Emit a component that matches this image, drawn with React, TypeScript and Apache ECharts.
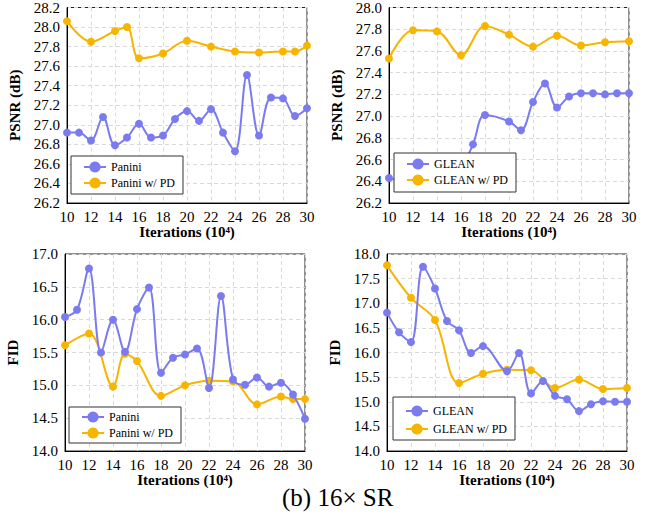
import React, { useEffect, useRef } from "react";
import * as echarts from "echarts";

// ---------- data ----------
const iterAll = [10, 11, 12, 13, 14, 15, 16, 17, 18, 19, 20, 21, 22, 23, 24, 25, 26, 27, 28, 29, 30];
const paniniPsnr = [26.92, 26.92, 26.84, 27.08, 26.79, 26.87, 27.01, 26.87, 26.89, 27.06, 27.14, 27.04, 27.16, 26.92, 26.73, 27.51, 26.89, 27.28, 27.27, 27.09, 27.17];
const paniniPdIter = [10, 12, 14, 15, 16, 18, 20, 22, 24, 26, 28, 29, 30];
const paniniPdPsnr = [28.06, 27.85, 27.96, 28.0, 27.68, 27.73, 27.86, 27.8, 27.75, 27.74, 27.75, 27.75, 27.81];

const gleanIter = [10, 11, 12, 13, 14, 15, 16, 17, 18, 20, 21, 22, 23, 24, 25, 26, 27, 28, 29, 30];
const gleanPsnr = [26.43, 26.4, 26.37, 26.4, 26.42, 26.46, 26.53, 26.74, 27.01, 26.95, 26.87, 27.13, 27.3, 27.08, 27.18, 27.21, 27.21, 27.2, 27.21, 27.21];
const gleanPdIter = [10, 12, 14, 16, 18, 20, 22, 24, 26, 28, 30];
const gleanPdPsnr = [27.53, 27.79, 27.78, 27.56, 27.83, 27.75, 27.64, 27.74, 27.65, 27.68, 27.69];

const paniniFid = [16.04, 16.15, 16.78, 15.5, 16.0, 15.51, 16.16, 16.49, 15.19, 15.42, 15.47, 15.56, 14.96, 16.36, 15.09, 15.01, 15.12, 14.98, 15.04, 14.86, 14.49];
const paniniPdFid = [15.61, 15.79, 14.98, 15.48, 15.37, 14.84, 15.0, 15.07, 15.06, 14.71, 14.83, 14.79, 14.79];

const gleanFid = [16.81, 16.41, 16.21, 17.74, 17.3, 16.64, 16.45, 15.99, 16.13, 15.62, 15.99, 15.17, 15.42, 15.12, 15.05, 14.81, 14.95, 15.01, 15.0, 15.0];
const gleanPdFid = [17.77, 17.11, 16.66, 15.38, 15.57, 15.65, 15.64, 15.28, 15.45, 15.26, 15.28];

const seriesNames = ["Panini", "Panini w/ PD", "GLEAN", "GLEAN w/ PD"];
const xTitle = "Iterations (10\u2074)";
const yTitles = ["PSNR (dB)", "PSNR (dB)", "FID", "FID"];
const caption = "(b) 16\u00d7 SR";

// ---------- style ----------
const SERIF = "'Liberation Serif', 'Times New Roman', serif";
const BLUE = "#7b7bf0";
const GOLD = "#f7b500";

const pairs = (xs: number[], ys: number[]) => xs.map((x, i) => [x, ys[i]]);

export default function App() {
  const ref = useRef<HTMLDivElement>(null);
  useEffect(() => {
    if (!ref.current) return;
    const chart = echarts.init(ref.current, null, { renderer: "svg" });

    const grids = [
      { left: 67, top: 6, width: 240, height: 197 },
      { left: 389, top: 6, width: 240, height: 197 },
      { left: 65, top: 254, width: 240, height: 197 },
      { left: 387, top: 254, width: 240, height: 197 },
    ].map((g) => ({ ...g, show: true, borderColor: "#222", borderWidth: 1, backgroundColor: "transparent" }));

    const yRanges = [
      { min: 26.2, max: 28.2, interval: 0.2 },
      { min: 26.2, max: 28.0, interval: 0.2 },
      { min: 14, max: 17, interval: 0.5 },
      { min: 14, max: 18, interval: 0.5 },
    ];

    const splitLine = { show: true, lineStyle: { color: "#d9d9d9", type: [4, 3] as any, width: 1 } };

    const xAxis = grids.map((_, i) => ({
      type: "value",
      gridIndex: i,
      min: 10,
      max: 30,
      interval: 2,
      name: xTitle,
      nameLocation: "middle",
      nameGap: 18,
      nameTextStyle: { fontFamily: SERIF, fontWeight: "bold", fontSize: 15, color: "#000" },
      axisLine: { show: true, lineStyle: { color: "#000" } },
      axisTick: { show: false },
      axisLabel: { fontFamily: SERIF, fontSize: 15, color: "#000", margin: 6 },
      splitLine,
    }));

    const yAxis = grids.map((_, i) => ({
      type: "value",
      gridIndex: i,
      ...yRanges[i],
      name: yTitles[i],
      nameLocation: "middle",
      nameGap: 45,
      nameTextStyle: { fontFamily: SERIF, fontWeight: "bold", fontSize: 15, color: "#000" },
      axisLine: { show: true, lineStyle: { color: "#000" } },
      axisTick: { show: false },
      axisLabel: {
        fontFamily: SERIF,
        fontSize: 15,
        color: "#000",
        margin: 7,
        formatter: (v: number) => v.toFixed(1),
      },
      splitLine,
    }));

    const mk = (name: string, data: number[][], color: string, idx: number, z: number) => ({
      type: "line",
      name,
      xAxisIndex: idx,
      yAxisIndex: idx,
      data,
      smooth: 0.35,
      symbol: "circle",
      symbolSize: 8,
      showSymbol: true,
      lineStyle: { color, width: 2 },
      itemStyle: { color },
      z,
    });

    const series = [
      mk(seriesNames[0], pairs(iterAll, paniniPsnr), BLUE, 0, 3),
      mk(seriesNames[1], pairs(paniniPdIter, paniniPdPsnr), GOLD, 0, 2),
      mk(seriesNames[2], pairs(gleanIter, gleanPsnr), BLUE, 1, 3),
      mk(seriesNames[3], pairs(gleanPdIter, gleanPdPsnr), GOLD, 1, 2),
      mk(seriesNames[0], pairs(iterAll, paniniFid), BLUE, 2, 3),
      mk(seriesNames[1], pairs(paniniPdIter, paniniPdFid), GOLD, 2, 2),
      mk(seriesNames[2], pairs(gleanIter, gleanFid), BLUE, 3, 3),
      mk(seriesNames[3], pairs(gleanPdIter, gleanPdFid), GOLD, 3, 2),
    ];

    const legendPos = [
      { left: 71, top: 156, padding: [5, 8, 5, 12], itemGap: 4, names: [seriesNames[0], seriesNames[1]] },
      { left: 394, top: 153, padding: [5, 8, 6, 12], itemGap: 4, names: [seriesNames[2], seriesNames[3]] },
      { left: 69, top: 407, padding: [4, 8, 4, 12], itemGap: 4, names: [seriesNames[0], seriesNames[1]] },
      { left: 393, top: 397, padding: [8, 8, 5, 12], itemGap: 6, names: [seriesNames[2], seriesNames[3]] },
    ];
    const legend = legendPos.map((l) => ({
      orient: "vertical",
      left: l.left,
      top: l.top,
      padding: l.padding,
      itemGap: l.itemGap,
      itemWidth: 22,
      itemHeight: 14,
      data: l.names,
      backgroundColor: "#fff",
      borderColor: "#333",
      borderWidth: 1,
      borderRadius: 0,
      selectedMode: false,
      textStyle: { fontFamily: SERIF, fontSize: 12, color: "#000", padding: [0, 0, 0, 0] },
      z: 10,
    }));

    chart.setOption({
      animation: false,
      backgroundColor: "#fff",
      grid: grids,
      xAxis,
      yAxis,
      series,
      legend,
      graphic: [
        {
          type: "text",
          left: 282,
          top: 485,
          style: { text: caption, fontFamily: SERIF, fontSize: 25, fill: "#000" },
        },
      ],
    });
    return () => chart.dispose();
  }, []);

  return (
    <div
      ref={ref}
      style={{ position: "fixed", left: 0, top: 0, width: 650, height: 516, background: "#fff" }}
    />
  );
}
